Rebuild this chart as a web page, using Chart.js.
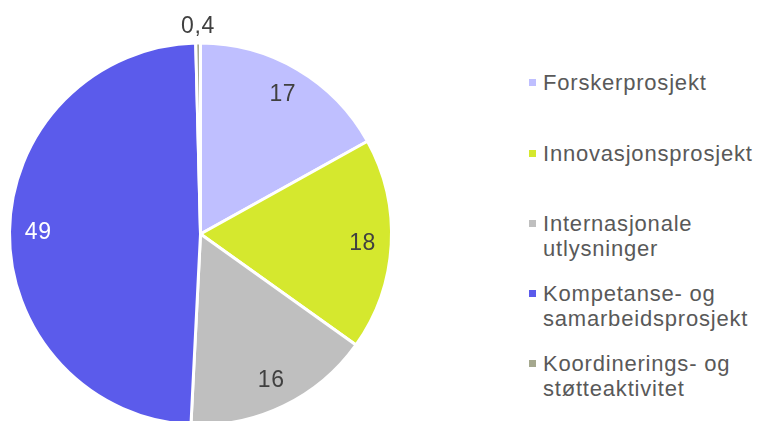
<!DOCTYPE html>
<html><head><meta charset="utf-8">
<script src="https://cdn.jsdelivr.net/npm/chart.js@4"></script>
<style>
html,body{margin:0;padding:0;width:758px;height:421px;overflow:hidden;background:#fff;}
#c{position:absolute;left:0;top:0;}
#legend{position:absolute;left:529px;top:0;width:229px;height:421px;font-family:"Liberation Sans",Arial,sans-serif;font-size:22px;letter-spacing:0.8px;color:#595959;line-height:25px;}
.item{position:absolute;left:0;white-space:nowrap;}
.item:nth-child(1){top:70px;}
.item:nth-child(2){top:141px;}
.item:nth-child(3){top:211px;}
.item:nth-child(4){top:281px;}
.item:nth-child(5){top:351px;}
.mk{position:absolute;left:0;top:9px;width:7px;height:7px;}
.tx{position:absolute;left:14px;top:0;}
</style></head>
<body>
<canvas id="c" width="401" height="468"></canvas>
<div id="legend"></div>
<script>
const categories = [["Forskerprosjekt"],["Innovasjonsprosjekt"],["Internasjonale","utlysninger"],["Kompetanse- og","samarbeidsprosjekt"],["Koordinerings- og","støtteaktivitet"]];
const values = [17, 18, 16, 49, 0.4];
const valueLabels = ["17", "18", "16", "49", "0,4"];
const colors = ["#BFBFFF", "#D5E82E", "#BFBFBF", "#5B5BEB", "#A5A88E"];
const labelColors = ["#404040", "#404040", "#404040", "#FFFFFF", "#404040"];

const labelPlugin = {
  id: 'sliceLabels',
  afterDatasetsDraw(chart) {
    const ctx = chart.ctx;
    const meta = chart.getDatasetMeta(0);
    ctx.save();
    ctx.font = '23px "Liberation Sans", Arial, sans-serif';
    if ('letterSpacing' in ctx) ctx.letterSpacing = '0.6px';
    ctx.textAlign = 'center';
    ctx.textBaseline = 'middle';
    meta.data.forEach((arc, i) => {
      const p = arc.getProps(['x', 'y', 'startAngle', 'endAngle', 'outerRadius'], true);
      const mid = (p.startAngle + p.endAngle) / 2;
      const span = p.endAngle - p.startAngle;
      const r = span < 0.1 ? p.outerRadius + 17 : p.outerRadius * 0.85;
      ctx.fillStyle = labelColors[i];
      ctx.fillText(valueLabels[i], p.x + Math.cos(mid) * r, p.y + Math.sin(mid) * r + 1);
    });
    ctx.restore();
  }
};

new Chart(document.getElementById('c'), {
  type: 'pie',
  data: {
    labels: categories.map(c => c.join(' ')),
    datasets: [{
      data: values,
      backgroundColor: colors,
      borderColor: '#FFFFFF',
      borderWidth: 3
    }]
  },
  options: {
    responsive: false,
    animation: false,
    radius: 191,
    plugins: { legend: { display: false }, tooltip: { enabled: false } }
  },
  plugins: [labelPlugin]
});

const legend = document.getElementById('legend');
categories.forEach((lines, i) => {
  const item = document.createElement('div');
  item.className = 'item';
  const mk = document.createElement('div');
  mk.className = 'mk';
  mk.style.background = colors[i];
  const tx = document.createElement('div');
  tx.className = 'tx';
  tx.innerHTML = lines.join('<br>');
  item.appendChild(mk);
  item.appendChild(tx);
  legend.appendChild(item);
});
</script>
</body></html>
